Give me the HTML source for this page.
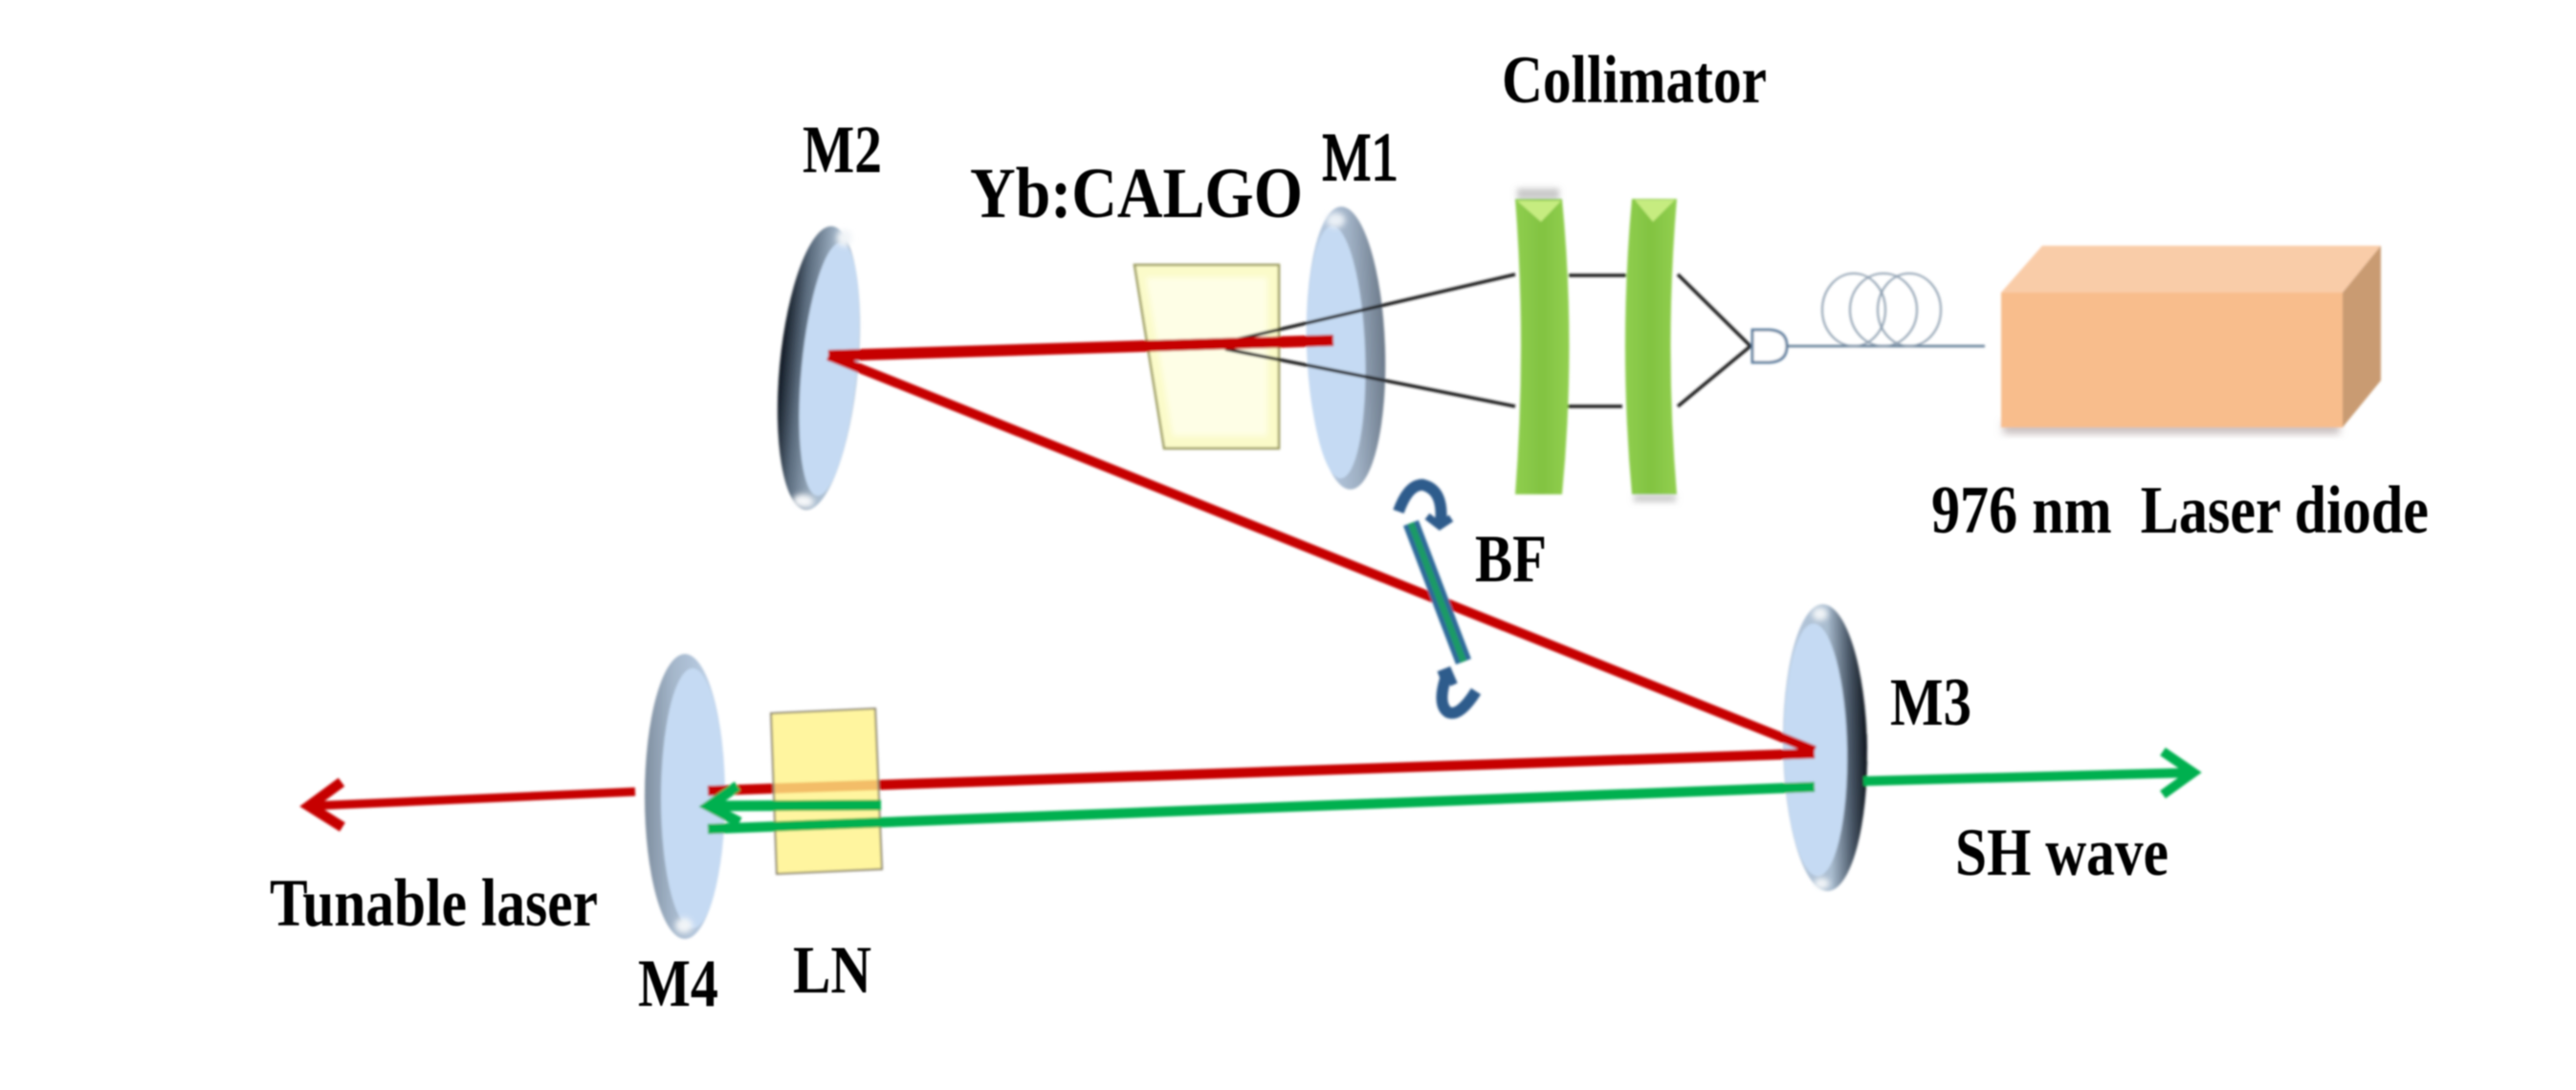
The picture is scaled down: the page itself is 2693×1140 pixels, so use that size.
<!DOCTYPE html>
<html><head><meta charset="utf-8"><style>
html,body{margin:0;padding:0;background:#fff;width:2693px;height:1140px;overflow:hidden}
svg{display:block}
text{font-family:"Liberation Serif",serif;font-weight:bold;fill:#000;font-size:71px}
</style></head><body>
<svg width="2693" height="1140" viewBox="0 0 2693 1140" xmlns="http://www.w3.org/2000/svg">
<defs>
<filter id="b" x="-10%" y="-10%" width="120%" height="120%"><feGaussianBlur stdDeviation="1.3"/></filter>
<filter id="bt" x="-5%" y="-20%" width="110%" height="140%"><feGaussianBlur stdDeviation="0.9"/></filter>
<filter id="s" x="-30%" y="-30%" width="160%" height="160%"><feGaussianBlur stdDeviation="4"/></filter>
<filter id="h" x="-60%" y="-60%" width="220%" height="220%"><feGaussianBlur stdDeviation="3"/></filter>
<linearGradient id="dl" x1="0" x2="1" y1="0" y2="0"><stop offset="0" stop-color="#0e1620"/><stop offset=".25" stop-color="#5a6b7d"/><stop offset=".6" stop-color="#a9bccf"/><stop offset="1" stop-color="#b9c9da"/></linearGradient>
<linearGradient id="dr" x1="0" x2="1" y1="0" y2="0"><stop offset="0" stop-color="#b9cbe0"/><stop offset=".55" stop-color="#a9bccf"/><stop offset=".8" stop-color="#4a5868"/><stop offset="1" stop-color="#10161e"/></linearGradient>
<linearGradient id="mr" x1="0" x2="1" y1="0" y2="0"><stop offset="0" stop-color="#c5d9f1"/><stop offset=".6" stop-color="#9fb0c4"/><stop offset="1" stop-color="#6c7a8a"/></linearGradient>
<linearGradient id="ml" x1="0" x2="1" y1="0" y2="0"><stop offset="0" stop-color="#7f8fa0"/><stop offset=".35" stop-color="#a4b6ca"/><stop offset="1" stop-color="#c5d9f1"/></linearGradient>
<linearGradient id="g" x1="0" x2="1" y1="0" y2="0"><stop offset="0" stop-color="#8fce4f"/><stop offset=".5" stop-color="#82c341"/><stop offset="1" stop-color="#92d050"/></linearGradient>
</defs>

<g filter="url(#b)">
<!-- Mirrors -->
<g transform="translate(856,385) rotate(5.4)">
  <ellipse rx="41" ry="149" fill="url(#dl)"/>
  <ellipse cx="11" rx="29" ry="133" fill="#c5daf3"/>
  <ellipse cx="14" cy="-138" rx="8" ry="9" fill="#f2f5f8" filter="url(#h)"/>
  <ellipse cx="-3" cy="140" rx="11" ry="7" fill="#f6f8fa" filter="url(#h)"/>
</g>
<g transform="translate(1407,364) rotate(-2)">
  <ellipse rx="41" ry="148" fill="url(#mr)"/>
  <ellipse cx="-10" cy="4" rx="30" ry="132" fill="#c5daf3"/>
  <ellipse cx="-6" cy="-134" rx="10" ry="8" fill="#eaf0f6" filter="url(#h)"/>
</g>
<g transform="translate(1908,782) rotate(-1)">
  <ellipse rx="44" ry="150" fill="url(#dr)"/>
  <ellipse cx="-10" cy="2" rx="33" ry="132" fill="#c5daf3"/>
  <ellipse cx="-3" cy="-140" rx="8" ry="7" fill="#f2f5f8" filter="url(#h)"/>
  <ellipse cx="-6" cy="142" rx="8" ry="6" fill="#f2f5f8" filter="url(#h)"/>
</g>
<g transform="translate(716,833)">
  <ellipse rx="42" ry="149" fill="url(#ml)"/>
  <ellipse cx="8" cy="2" rx="33" ry="136" fill="#c5daf3"/>
  <ellipse cx="-1" cy="135" rx="9" ry="8" fill="#f2f5f8" filter="url(#h)"/>
</g>

<!-- Yb:CALGO crystal -->
<polygon points="1186,277 1337,277 1337,469 1217,469" fill="#fbfbc9" stroke="#9c9c60" stroke-width="2.5"/>
<polygon points="1198,290 1325,290 1325,456 1226,456" fill="#fefee6" filter="url(#h)"/>

<!-- Pump black lines -->
<g stroke="#1c1c1c" stroke-width="3.5" fill="none">
  <line x1="1293" y1="355" x2="1584" y2="287"/>
  <line x1="1281" y1="365" x2="1584" y2="425"/>
  <line x1="1640" y1="288" x2="1700" y2="288"/>
  <line x1="1638" y1="425" x2="1696" y2="425"/>
  <polyline points="1754,287 1830,362 1754,425"/>
</g>

<!-- Collimator lenses -->
<rect x="1586" y="197" width="44" height="12" fill="#c9c9c9" filter="url(#h)"/>
<rect x="1708" y="517" width="44" height="8" fill="#cccccc" filter="url(#h)"/>
<path d="M1584,208 L1633,208 Q1648,362 1633,517 L1584,517 Q1596,362 1584,208 Z" fill="url(#g)"/>
<path d="M1706,208 L1753,208 Q1740,362 1753,517 L1706,517 Q1692,362 1706,208 Z" fill="url(#g)"/>
<polygon points="1586,210 1632,210 1611,232" fill="#c6ec80"/>
<polygon points="1709,209 1751,209 1728,232" fill="#c6ec80"/>

<!-- Fiber -->
<path d="M1832,345 H1850 Q1868,346 1868,362 Q1868,378 1850,379 H1832 Z" fill="#fff" stroke="#5f7f9f" stroke-width="3"/>
<line x1="1868" y1="362" x2="2075" y2="362" stroke="#5f7a94" stroke-width="2.5"/>
<g fill="none" stroke="#8295a8" stroke-width="1.8">
  <ellipse cx="1938" cy="324" rx="33" ry="38"/>
  <ellipse cx="1969" cy="324" rx="35" ry="38"/>
  <ellipse cx="1996" cy="324" rx="33" ry="38"/>
</g>

<!-- Laser diode box -->
<rect x="2094" y="440" width="352" height="14" fill="#c9c0c0" filter="url(#s)"/>
<polygon points="2092,306 2135,257 2489,257 2449,306" fill="#f9cca8"/>
<polygon points="2449,306 2489,257 2489,398 2449,447" fill="#c99b72"/>
<rect x="2092" y="306" width="357" height="141" fill="#f8bd8c"/>

<!-- Red beams -->
<g stroke="#c60000" fill="none">
  <line x1="866" y1="372" x2="1394" y2="356" stroke-width="12"/>
  <polyline points="1897,785 866,372" stroke-width="10"/>
  <line x1="1897" y1="788" x2="740" y2="827" stroke-width="10.5"/>
  <line x1="664" y1="828" x2="323" y2="843" stroke-width="9"/>
  <polyline points="357,818 323,843 358,865" stroke-width="11" stroke-linejoin="miter"/>
</g>

<!-- LN crystal -->
<polygon points="806,746 915,741 922,909 812,914" fill="#fff284" fill-opacity=".78" stroke="#8a8470" stroke-width="2"/>

<!-- Green beams -->
<g stroke="#00b050" fill="none">
  <line x1="921" y1="842" x2="742" y2="843" stroke-width="11"/>
  <polyline points="771,822 741,843 773,860" stroke-width="11"/>
  <line x1="740" y1="867" x2="1897" y2="823" stroke-width="10.5"/>
  <line x1="1948" y1="817" x2="2293" y2="808" stroke-width="10"/>
  <polyline points="2261,786 2293,808 2261,831" stroke-width="10"/>
</g>

<!-- BF -->
<line x1="1475" y1="547" x2="1530" y2="692" stroke="#2d6a9a" stroke-width="17"/>
<line x1="1475" y1="547" x2="1530" y2="692" stroke="#1d9a66" stroke-width="7"/>
<g fill="none" stroke="#2f5b8c" stroke-width="12">
  <path d="M1462,535 Q1472,507 1487,507 Q1510,512 1506,548"/>
  <path d="M1492,540 L1505,550 L1517,542" stroke-width="8"/>
  <path d="M1512,707 Q1502,737 1514,745 Q1526,750 1543,723"/>
  <path d="M1504,706 L1514,702 L1520,716" stroke-width="8"/>
</g>
</g>

<!-- Labels -->
<g filter="url(#bt)">
<text x="839" y="180" textLength="83" lengthAdjust="spacingAndGlyphs">M2</text>
<text x="1382" y="188" textLength="80" lengthAdjust="spacingAndGlyphs" style="font-weight:normal;stroke:#000;stroke-width:2px">M1</text>
<text x="1014" y="227" textLength="348" lengthAdjust="spacingAndGlyphs" style="font-size:75px">Yb:CALGO</text>
<text x="1570" y="107" textLength="277" lengthAdjust="spacingAndGlyphs">Collimator</text>
<text x="2019" y="557" textLength="520" lengthAdjust="spacingAndGlyphs" xml:space="preserve">976 nm  Laser diode</text>
<text x="1542" y="608" textLength="75" lengthAdjust="spacingAndGlyphs">BF</text>
<text x="1976" y="758" textLength="85" lengthAdjust="spacingAndGlyphs">M3</text>
<text x="2044" y="915" textLength="223" lengthAdjust="spacingAndGlyphs">SH wave</text>
<text x="282" y="968" textLength="343" lengthAdjust="spacingAndGlyphs">Tunable laser</text>
<text x="667" y="1052" textLength="84" lengthAdjust="spacingAndGlyphs">M4</text>
<text x="829" y="1038" textLength="82" lengthAdjust="spacingAndGlyphs">LN</text>
</g>
</svg>
</body></html>
